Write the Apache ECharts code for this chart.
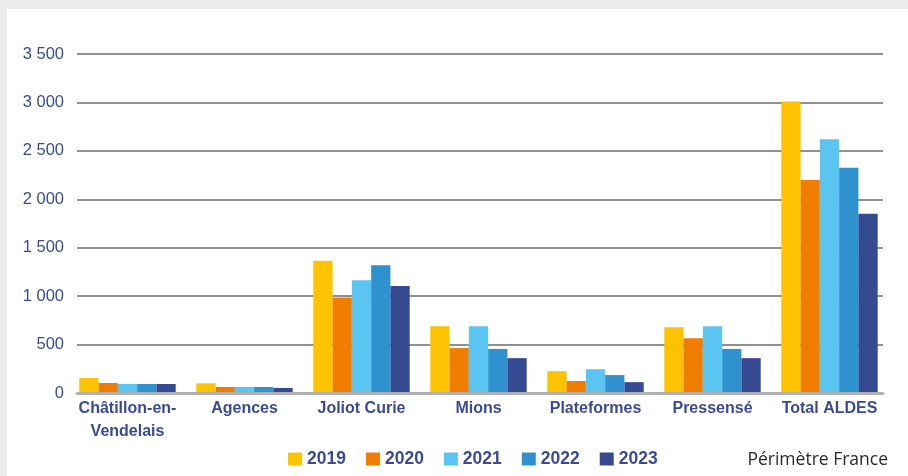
<!DOCTYPE html>
<html>
<head>
<meta charset="utf-8">
<script src="https://cdn.jsdelivr.net/npm/echarts@6/dist/echarts.min.js"></script>
<style>
html,body{margin:0;padding:0;background:#ebebeb;}
#wrap{position:absolute;left:7px;top:9px;width:901px;height:467px;background:#fff;}
#chart{position:absolute;left:0;top:0;width:908px;height:476px;}
</style>
</head>
<body>
<div id="wrap"></div>
<div id="chart"></div>
<script>
const categories = ['Châtillon-en-\nVendelais', 'Agences', 'Joliot Curie', 'Mions', 'Plateformes', 'Pressensé', 'Total ALDES'];
const years = ['2019', '2020', '2021', '2022', '2023'];
const v2019 = [155, 100, 1365, 690, 225, 680, 3010];
const v2020 = [103, 62, 985, 465, 124, 565, 2200];
const v2021 = [93, 62, 1165, 690, 245, 690, 2620];
const v2022 = [93, 62, 1320, 455, 185, 455, 2325];
const v2023 = [93, 52, 1105, 360, 112, 360, 1850];
const yTicks = [0, 500, 1000, 1500, 2000, 2500, 3000, 3500];
const colors = ['#FDC300', '#EF7D00', '#5BC5F2', '#3091CF', '#364A91'];
const values = [v2019, v2020, v2021, v2022, v2023];

const textColor = '#3B4A94';
const font = '"Liberation Sans", Arial, sans-serif';

const chart = echarts.init(document.getElementById('chart'), null, {renderer: 'canvas'});
chart.setOption({
  backgroundColor: 'transparent',
  animation: false,
  color: colors,
  grid: [
    {left: 69, right: 20, top: 54, bottom: 83, containLabel: false},
    {left: 77, right: 25, top: 54, bottom: 83, containLabel: false}
  ],
  legend: {
    top: 450,
    left: 288,
    padding: 0,
    itemWidth: 14,
    itemHeight: 13,
    itemGap: 20,
    icon: 'rect',
    data: years,
    textStyle: {color: textColor, fontFamily: font, fontSize: 17.5, fontWeight: 'bold'}
  },
  graphic: [{
    type: 'text',
    right: 20,
    top: 451,
    style: {text: 'Périmètre France', fill: '#2a2a2a', font: '17.5px "Open Sans", "Noto Sans", sans-serif'}
  }],
  xAxis: [
    {
      type: 'category',
      gridIndex: 0,
      data: categories,
      axisLine: {show: false},
      axisTick: {show: false},
      axisLabel: {color: textColor, fontFamily: font, fontSize: 16, fontWeight: 'bold', margin: 4, lineHeight: 23, interval: 0}
    },
    {
      type: 'value',
      gridIndex: 1,
      min: 0,
      max: 1,
      z: 5,
      axisLine: {show: true, lineStyle: {color: '#b0b0b0', width: 3}},
      axisTick: {show: false},
      axisLabel: {show: false},
      splitLine: {show: false}
    }
  ],
  yAxis: [
    {
      type: 'value',
      gridIndex: 0,
      min: 0,
      max: 3500,
      interval: 500,
      axisLine: {show: false},
      axisTick: {show: false},
      axisLabel: {show: false},
      splitLine: {show: false}
    },
    {
      type: 'value',
      gridIndex: 1,
      min: 0,
      max: 3500,
      interval: 500,
      axisLine: {show: false},
      axisTick: {show: false},
      splitLine: {lineStyle: {color: '#6b6b6b', width: 1.5}},
      axisLabel: {
        color: textColor, fontFamily: font, fontSize: 16.5, margin: 13,
        formatter: v => yTicks.includes(v) ? String(v).replace(/\B(?=(\d{3})+(?!\d))/g, ' ') : ''
      }
    }
  ],
  series: years.map((y, i) => ({
    name: y,
    type: 'bar',
    xAxisIndex: 0,
    yAxisIndex: 0,
    data: values[i],
    barGap: '0%',
    barCategoryGap: '17.6%',
    itemStyle: {color: colors[i]}
  }))
});
</script>
</body>
</html>
